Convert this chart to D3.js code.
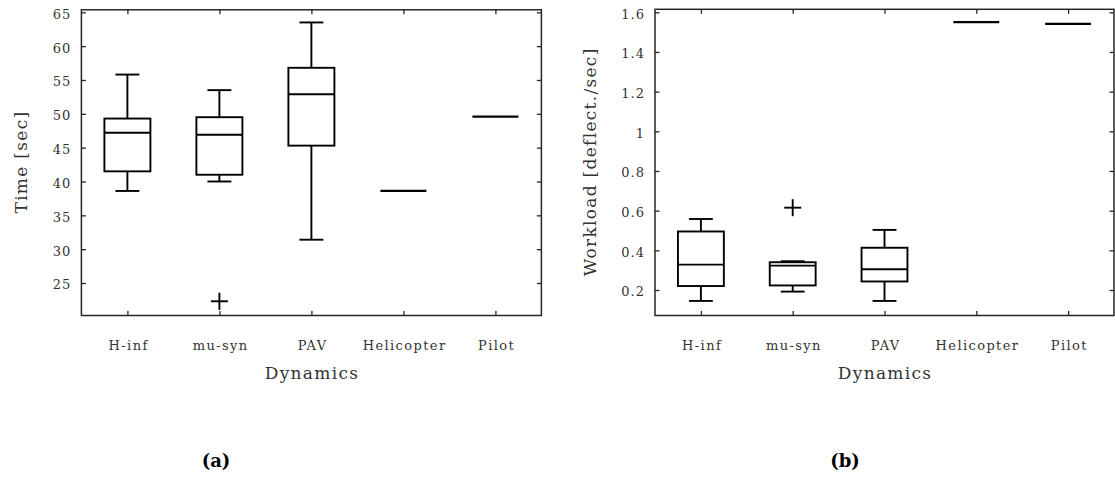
<!DOCTYPE html>
<html><head><meta charset="utf-8">
<script src="https://cdn.jsdelivr.net/npm/d3@7"></script>
<style>
body{margin:0;background:#fff;}
svg{display:block;}
text{font-family:"DejaVu Serif","Liberation Serif",serif;}
</style></head>
<body>
<svg id="c" width="1115" height="477"></svg>
<script>
const categories = ["H-inf","mu-syn","PAV","Helicopter","Pilot"];
// panel (a): Time [sec]
const timeLowWhisker = [38.6, 40.0, 31.4, 38.6, 49.6];
const timeQ1        = [41.5, 41.0, 45.3, 38.6, 49.6];
const timeMedian    = [47.2, 46.9, 52.9, 38.6, 49.6];
const timeQ3        = [49.3, 49.5, 56.8, 38.6, 49.6];
const timeHighWhisker=[55.8, 53.5, 63.5, 38.6, 49.6];
const timeOutliers  = [[], [22.3], [], [], []];
const timeTicks = [25,30,35,40,45,50,55,60,65];
// panel (b): Workload [deflect./sec]
const wlLowWhisker  = [0.145, 0.192, 0.145, 1.550, 1.542];
const wlQ1          = [0.220, 0.223, 0.243, 1.550, 1.542];
const wlMedian      = [0.328, 0.323, 0.305, 1.550, 1.542];
const wlQ3          = [0.495, 0.340, 0.413, 1.550, 1.542];
const wlHighWhisker = [0.558, 0.345, 0.503, 1.550, 1.542];
const wlOutliers    = [[], [0.615], [], [], []];
const wlTicks = [0.2,0.4,0.6,0.8,1,1.2,1.4,1.6];

const svg = d3.select("#c");
const frameColor = "#262626";
const textColor = "#333";

function panel(cfg){
  const g = svg.append("g");
  const x = d3.scaleLinear().domain([0.5, categories.length+0.5]).range([cfg.left, cfg.right]);
  const y = d3.scaleLinear().domain(cfg.domain).range([cfg.bottom, cfg.top]);
  const idx = categories.map((c,i)=>i+1);
  const tl = 4.5;
  g.append("g").attr("transform",`translate(0,${cfg.bottom})`)
    .call(d3.axisBottom(x).tickValues(idx).tickFormat((d)=>categories[d-1]).tickSizeInner(-tl).tickSizeOuter(0).tickPadding(25))
    .call(a=>{a.select(".domain").remove();a.selectAll("line").attr("stroke",frameColor).attr("stroke-width",1.3);
      a.selectAll("text").attr("font-size",13).attr("letter-spacing",1.4).attr("dx",0.7).attr("fill",textColor).attr("font-family","DejaVu Serif");});
  g.append("g").attr("transform",`translate(0,${cfg.top})`)
    .call(d3.axisTop(x).tickValues(idx).tickFormat("").tickSizeInner(-tl).tickSizeOuter(0))
    .call(a=>{a.select(".domain").remove();a.selectAll("line").attr("stroke",frameColor).attr("stroke-width",1.3);});
  g.append("g").attr("transform",`translate(${cfg.left},0)`)
    .call(d3.axisLeft(y).tickValues(cfg.ticks).tickFormat(cfg.fmt).tickSizeInner(-tl).tickSizeOuter(0).tickPadding(10))
    .call(a=>{a.select(".domain").remove();a.selectAll("line").attr("stroke",frameColor).attr("stroke-width",1.3);
      a.selectAll("text").attr("font-size",13).attr("letter-spacing",1).attr("dy","0.45em").attr("fill",textColor).attr("font-family","DejaVu Serif");});
  g.append("g").attr("transform",`translate(${cfg.right},0)`)
    .call(d3.axisRight(y).tickValues(cfg.ticks).tickFormat("").tickSizeInner(-tl).tickSizeOuter(0))
    .call(a=>{a.select(".domain").remove();a.selectAll("line").attr("stroke",frameColor).attr("stroke-width",1.3);});
  g.append("rect").attr("x",cfg.left).attr("y",cfg.top).attr("width",cfg.right-cfg.left).attr("height",cfg.bottom-cfg.top)
    .attr("fill","none").attr("stroke",frameColor).attr("stroke-width",1.5);

  const bw = 0.5, cw = 0.26;
  const d = categories.map((c,i)=>({i:i+1, lo:cfg.lo[i], q1:cfg.q1[i], med:cfg.med[i], q3:cfg.q3[i], hi:cfg.hi[i], out:cfg.out[i]}));
  const bx = g.append("g").attr("stroke","#000").attr("stroke-width",1.9).attr("fill","none");
  d.forEach(b=>{
    const gg = bx.append("g");
    const flat = b.q1===b.q3 && b.lo===b.hi;
    if(!flat){
      gg.append("line").attr("x1",x(b.i)).attr("x2",x(b.i)).attr("y1",y(b.q3)).attr("y2",y(b.hi));
      gg.append("line").attr("x1",x(b.i)).attr("x2",x(b.i)).attr("y1",y(b.q1)).attr("y2",y(b.lo));
      gg.append("line").attr("x1",x(b.i-cw/2)).attr("x2",x(b.i+cw/2)).attr("y1",y(b.hi)).attr("y2",y(b.hi));
      gg.append("line").attr("x1",x(b.i-cw/2)).attr("x2",x(b.i+cw/2)).attr("y1",y(b.lo)).attr("y2",y(b.lo));
      gg.append("rect").attr("x",x(b.i-bw/2)).attr("width",x(b.i+bw/2)-x(b.i-bw/2))
        .attr("y",y(b.q3)).attr("height",y(b.q1)-y(b.q3));
    }
    gg.append("line").attr("x1",x(b.i-bw/2)).attr("x2",x(b.i+bw/2)).attr("y1",y(b.med)).attr("y2",y(b.med))
      .attr("stroke-width", flat?2.2:1.9);
    b.out.forEach(o=>{
      const s=8.5;
      gg.append("line").attr("x1",x(b.i)-s).attr("x2",x(b.i)+s).attr("y1",y(o)).attr("y2",y(o));
      gg.append("line").attr("x1",x(b.i)).attr("x2",x(b.i)).attr("y1",y(o)-s).attr("y2",y(o)+s);
    });
  });
  const cx = (cfg.left+cfg.right)/2;
  g.append("text").attr("x",cx+0.6).attr("y",379).attr("text-anchor","middle").attr("font-size",17)
    .attr("letter-spacing",1.3).attr("fill",textColor).text("Dynamics");
  g.append("text").attr("transform",`translate(${cfg.ylabX},${(cfg.top+cfg.bottom)/2}) rotate(-90)`)
    .attr("text-anchor","middle").attr("font-size",17).attr("letter-spacing",1.3).attr("dx",0.6).attr("fill",textColor).text(cfg.ylab);
  g.append("text").attr("x",cfg.capX).attr("y",467).attr("text-anchor","middle").attr("font-size",18)
    .attr("font-weight","bold").attr("fill","#000").text(cfg.cap);
}

panel({left:81.4,right:541.4,top:9.8,bottom:315.5,domain:[20.2,65.37],ticks:timeTicks,fmt:d3.format("d"),
  lo:timeLowWhisker,q1:timeQ1,med:timeMedian,q3:timeQ3,hi:timeHighWhisker,out:timeOutliers,
  ylab:"Time [sec]",ylabX:27,cap:"(a)",capX:216});
panel({left:655,right:1114,top:9.3,bottom:315.5,domain:[0.0715,1.615],ticks:wlTicks,fmt:(v)=>d3.format("")(v),
  lo:wlLowWhisker,q1:wlQ1,med:wlMedian,q3:wlQ3,hi:wlHighWhisker,out:wlOutliers,
  ylab:"Workload [deflect./sec]",ylabX:596,cap:"(b)",capX:845});
</script>
</body></html>
